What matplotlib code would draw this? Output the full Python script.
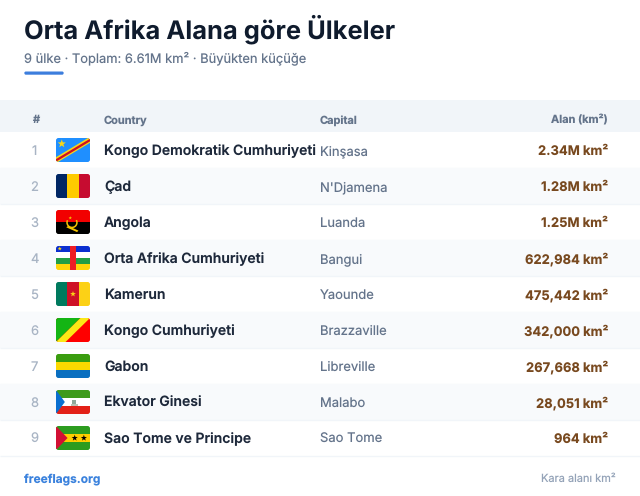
import matplotlib
matplotlib.use("Agg")
import matplotlib.pyplot as plt
from matplotlib.patches import Rectangle, Polygon, FancyBboxPatch
import numpy as np

plt.rcParams['font.family'] = ['Inter', 'DejaVu Sans']
plt.rcParams['text.hinting'] = 'no_hinting'
plt.rcParams['text.hinting_factor'] = 1

TITLE = "Orta Afrika Alana göre Ülkeler"
SUBTITLE = "9 ülke · Toplam: 6.61M km² · Büyükten küçüğe"
HEADERS = ["#", "Country", "Capital", "Alan (km²)"]
ranks = [1, 2, 3, 4, 5, 6, 7, 8, 9]
countries = ["Kongo Demokratik Cumhuriyeti", "Çad", "Angola", "Orta Afrika Cumhuriyeti",
             "Kamerun", "Kongo Cumhuriyeti", "Gabon", "Ekvator Ginesi", "Sao Tome ve Principe"]
capitals = ["Kinşasa", "N'Djamena", "Luanda", "Bangui", "Yaounde", "Brazzaville",
            "Libreville", "Malabo", "Sao Tome"]
areas = ["2.34M km²", "1.28M km²", "1.25M km²", "622,984 km²", "475,442 km²",
         "342,000 km²", "267,668 km²", "28,051 km²", "964 km²"]
FOOT_L = "freeflags.org"
FOOT_R = "Kara alanı km²"

fig = plt.figure(figsize=(6.4, 4.96), dpi=100, facecolor="white")
ax = fig.add_axes([0, 0, 1, 1])
ax.set_xlim(0, 640); ax.set_ylim(496, 0); ax.axis("off")
px = 0.72
B = "baseline"

ax.text(24, 38.3, TITLE, fontsize=25.5*px, fontweight="bold", color="#0f1b2d", va=B)
ax.text(24, 62.3, SUBTITLE, fontsize=12.9*px, color="#64748b", va=B)
ax.add_patch(FancyBboxPatch((25, 72.2), 38, 1.8, boxstyle="round,pad=0,rounding_size=0.9",
                            fc="#3b7ddd", ec="#3b7ddd", lw=1))

ax.add_patch(Rectangle((0, 100), 640, 32, fc="#f1f5f9", ec="none"))
hc = "#64748b"
ax.text(35.5, 123.3, HEADERS[0], fontsize=11*px, fontweight="bold", color=hc, ha="center", va=B)
ax.text(104, 123.3, HEADERS[1], fontsize=11*px, fontweight="bold", color=hc, va=B)
ax.text(320, 123.3, HEADERS[2], fontsize=11*px, fontweight="bold", color=hc, va=B)
ax.text(607.5, 123.3, HEADERS[3], fontsize=11*px, fontweight="bold", color=hc, ha="right", va=B)

def flag(i, x=56, w=34, h=24):
    top = 150 + 36*i - 12
    clip = FancyBboxPatch((x, top), w, h, boxstyle="round,pad=0,rounding_size=2.5",
                          fc="none", ec="none", transform=ax.transData)
    ax.add_patch(clip)
    items = []
    R = lambda fx, fy, fw, fh, c: items.append(Rectangle((x+fx*w, top+fy*h), fw*w, fh*h, fc=c, ec="none"))
    P = lambda pts, c: items.append(Polygon([(x+a*w, top+b*h) for a, b in pts], fc=c, ec="none"))
    def S(fx, fy, r, c):
        a = np.deg2rad(-90 + 36*np.arange(10))
        rr = np.where(np.arange(10) % 2 == 0, r, r*0.4)
        items.append(Polygon(np.c_[x+fx*w + rr*np.cos(a), top+fy*h + rr*np.sin(a)], fc=c, ec="none"))
    if i == 0:
        R(0, 0, 1, 1, "#1f8fff")
        P([(0, .80), (1, -.05), (1, .20), (0, 1.05)], "#f7d618")
        P([(0, .88), (1, .03), (1, .14), (0, .99)], "#ce1021")
        S(.17, .24, 4.3, "#f7d618")
    elif i == 1:
        R(0, 0, 1/3, 1, "#002664"); R(1/3, 0, 1/3, 1, "#fecb00"); R(2/3, 0, 1/3+.01, 1, "#c60c30")
    elif i == 2:
        R(0, 0, 1, .5, "#f20000"); R(0, .5, 1, .5, "#000000")
        th = np.linspace(-0.5, 3.6, 14)
        items.append(Polygon(np.c_[x+.47*w+5*np.cos(th), top+.52*h+5*np.sin(th)], closed=False,
                             fc="none", ec="#f5c400", lw=1.1))
        P([(.30, .72), (.36, .66), (.66, .86), (.62, .92)], "#f5c400")
        S(.42, .33, 1.8, "#f5c400")
    elif i == 3:
        R(0, 0, 1, .25, "#0b2fd0"); R(0, .25, 1, .25, "#ffffff")
        R(0, .5, 1, .25, "#229e45"); R(0, .75, 1, .25, "#ffd60a")
        R(.41, 0, .18, 1, "#ee1c25")
        S(.11, .11, 2.2, "#ffd60a")
    elif i == 4:
        R(0, 0, 1/3, 1, "#007a5e"); R(1/3, 0, 1/3, 1, "#ce1126"); R(2/3, 0, 1/3+.01, 1, "#fcd116")
        S(.5, .5, 3, "#fcd116")
    elif i == 5:
        R(0, 0, 1, 1, "#ff0000")
        P([(0, 0), (.72, 0), (0, 1)], "#14b514")
        P([(.72, 0), (1, 0), (.28, 1), (0, 1)], "#fbe816")
    elif i == 6:
        R(0, 0, 1, 1/3, "#3a9d0f"); R(0, 1/3, 1, 1/3, "#fcd900"); R(0, 2/3, 1, 1/3+.01, "#0a6fc0")
    elif i == 7:
        R(0, 0, 1, 1/3, "#3e9a1c"); R(0, 1/3, 1, 1/3, "#ffffff"); R(0, 2/3, 1, 1/3+.01, "#e32118")
        P([(0, 0), (.26, .5), (0, 1)], "#0a6fd0")
        R(.47, .40, .13, .19, "#8fa89a")
        R(.43, .60, .21, .05, "#b9c2b5")
    elif i == 8:
        R(0, 0, 1, 1/3, "#2c9c1f"); R(0, 1/3, 1, 1/3, "#ffce00"); R(0, 2/3, 1, 1/3+.01, "#2c9c1f")
        P([(0, 0), (.34, .5), (0, 1)], "#d21034")
        S(.55, .5, 3.2, "#000000"); S(.82, .5, 3.2, "#000000")
    for it in items:
        ax.add_patch(it)
        it.set_clip_path(clip)
        it.set_zorder(4)

for i in range(9):
    cy = 150 + 36*i
    if i % 2 == 1:
        ax.add_patch(Rectangle((0, cy-18), 640, 36, fc="#f8fafc", ec="none"))
    ax.plot([0, 640], [cy+18, cy+18], color="#f1f5f9", lw=1, solid_capstyle="butt", zorder=1)
    ax.text(34.5, cy+5.3, str(ranks[i]), fontsize=13*px, color="#a8b4c4", ha="center", va=B)
    flag(i)
    ax.text(104, cy+5.3, countries[i], fontsize=14*px, fontweight="semibold", color="#1e293b", va=B)
    ax.text(320, cy+5.3, capitals[i], fontsize=13*px, color="#64748b", va=B)
    ax.text(608, cy+5.3, areas[i], fontsize=13*px, fontweight="bold", color="#78491f", ha="right", va=B)

ax.text(24, 482.7, FOOT_L, fontsize=11.9*px, fontweight="bold", color="#3b82dd", va=B)
ax.text(616, 482.3, FOOT_R, fontsize=11*px, color="#94a3b8", ha="right", va=B)

fig.savefig("out.png", dpi=100, facecolor="white")
